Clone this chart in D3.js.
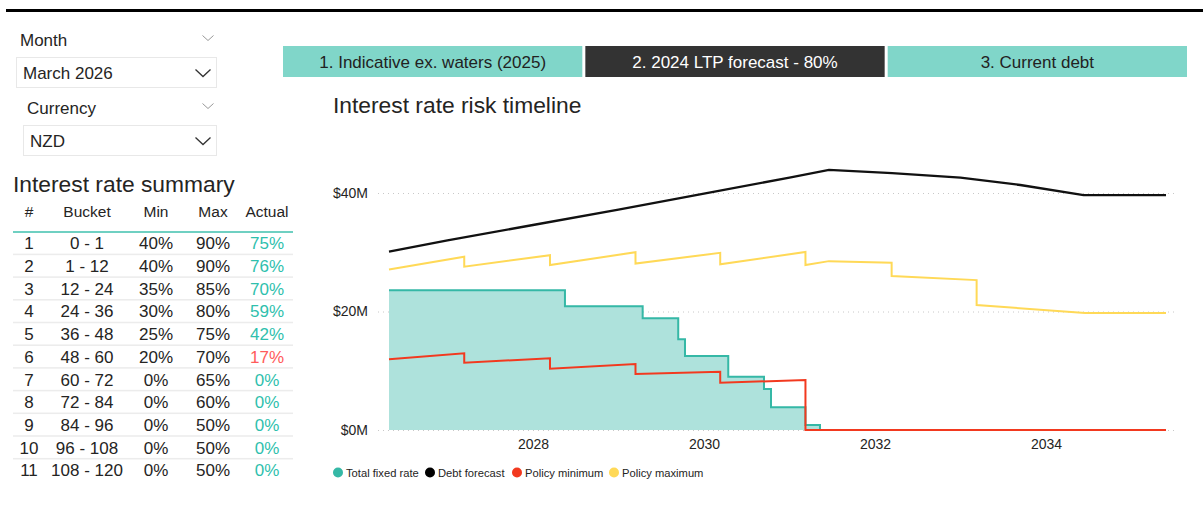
<!DOCTYPE html>
<html>
<head>
<meta charset="utf-8">
<script src="https://cdn.jsdelivr.net/npm/d3@7/dist/d3.min.js"></script>
<style>
  html, body { margin: 0; padding: 0; background: #fff; }
  svg { display: block; font-family: "Liberation Sans", Arial, sans-serif; }
</style>
</head>
<body>
<svg id="chart" width="1203" height="512"></svg>
<script>
// ---------- Data ----------
const tabLabels = ["1. Indicative ex. waters (2025)", "2. 2024 LTP forecast - 80%", "3. Current debt"];
const activeTab = 1;
const monthValue = "March 2026";
const currencyValue = "NZD";

const tableHeaders = ["#", "Bucket", "Min", "Max", "Actual"];
const rowNums   = [1, 2, 3, 4, 5, 6, 7, 8, 9, 10, 11];
const buckets   = ["0 - 1", "1 - 12", "12 - 24", "24 - 36", "36 - 48", "48 - 60", "60 - 72", "72 - 84", "84 - 96", "96 - 108", "108 - 120"];
const minPct    = [40, 40, 35, 30, 25, 20, 0, 0, 0, 0, 0];
const maxPct    = [90, 90, 85, 80, 75, 70, 65, 60, 50, 50, 50];
const actualPct = [75, 76, 70, 59, 42, 17, 0, 0, 0, 0, 0];

// time in decimal years, values in $M
const fixedT = [2026.316, 2028.374, 2029.283, 2029.699, 2029.778, 2030.284, 2030.702, 2030.784, 2031.187, 2031.357, 2035.404];
const fixedV = [23.6, 20.9, 18.85, 15.3, 12.5, 9.0, 6.9, 3.85, 0.85, 0, 0];

const debtT = [2026.316, 2027, 2028, 2029, 2030, 2031, 2031.462, 2032.2, 2033, 2033.7, 2034.44, 2035.404];
const debtV = [30.1, 32.0, 34.6, 37.2, 39.9, 42.6, 43.9, 43.35, 42.6, 41.35, 39.65, 39.65];

const minT = [2026.316, 2027.196, 2027.196, 2028.199, 2028.199, 2029.199, 2029.199, 2030.19, 2030.19, 2031.187, 2031.187, 2035.404];
const minV = [11.93, 12.95, 11.36, 12.1, 10.35, 11.14, 9.45, 9.84, 7.98, 8.44, 0, 0];

const maxT = [2026.316, 2027.196, 2027.196, 2028.199, 2028.199, 2029.199, 2029.199, 2030.19, 2030.19, 2031.187, 2031.187, 2031.462, 2032.195, 2032.195, 2033.189, 2033.189, 2034.456, 2035.404];
const maxV = [27.1, 29.25, 27.56, 29.5, 27.85, 30.0, 28.1, 29.9, 27.97, 30.04, 27.85, 28.5, 28.24, 26.0, 25.3, 21.1, 19.75, 19.75];

const yTicks = [0, 20, 40];
const xTicks = [2028, 2030, 2032, 2034];
const legendLabels = ["Total fixed rate", "Debt forecast", "Policy minimum", "Policy maximum"];

// ---------- Styles ----------
const C = {
  teal: "#35b8a6", tealFill: "#aee2dc", black: "#111111", red: "#f2391f", yellow: "#ffd957",
  text: "#252423", tab: "#80d6c9", tabDark: "#333333", grid: "#c8c8c8", ok: "#2fbfad", bad: "#ff5b5b"
};

const svg = d3.select("#chart");

// top rule
svg.append("rect").attr("x", 6).attr("y", 9).attr("width", 1197).attr("height", 3).attr("fill", "#000");

// ---------- Slicers ----------
function chevron(g, cx, cy, w, h, color, sw) {
  g.append("path")
    .attr("d", `M${cx - w / 2},${cy - h / 2} L${cx},${cy + h / 2} L${cx + w / 2},${cy - h / 2}`)
    .attr("fill", "none").attr("stroke", color).attr("stroke-width", sw);
}
const sl = svg.append("g");
sl.append("text").attr("x", 20).attr("y", 46).attr("font-size", 17).attr("fill", C.text).text("Month");
chevron(sl, 208, 38, 11, 5, "#999", 1);
sl.append("rect").attr("x", 16.5).attr("y", 57.5).attr("width", 200).attr("height", 30).attr("fill", "#fff").attr("stroke", "#e8e8e8");
sl.append("text").attr("x", 23).attr("y", 79).attr("font-size", 17).attr("fill", C.text).text(monthValue);
chevron(sl, 203, 73, 15, 7, "#333", 1.3);

sl.append("text").attr("x", 27).attr("y", 114).attr("font-size", 17).attr("fill", C.text).text("Currency");
chevron(sl, 208, 106, 11, 5, "#999", 1);
sl.append("rect").attr("x", 23.5).attr("y", 125.5).attr("width", 193).attr("height", 30).attr("fill", "#fff").attr("stroke", "#e8e8e8");
sl.append("text").attr("x", 30).attr("y", 147).attr("font-size", 17).attr("fill", C.text).text(currencyValue);
chevron(sl, 203, 141, 15, 7, "#333", 1.3);

// ---------- Table ----------
const tb = svg.append("g");
tb.append("text").attr("x", 13).attr("y", 192).attr("font-size", 22.8).attr("fill", C.text).text("Interest rate summary");
const colX = [29, 87, 156, 213, 267];
tb.selectAll("text.hdr").data(tableHeaders).join("text").attr("class", "hdr")
  .attr("x", (d, i) => colX[i]).attr("y", 217).attr("text-anchor", "middle")
  .attr("font-size", 15.5).attr("fill", C.text).text(d => d);
tb.append("rect").attr("x", 13).attr("y", 231).attr("width", 280).attr("height", 2).attr("fill", "#6fd0c2");
const rowH = 22.7, row0 = 243.3;
rowNums.forEach((n, i) => {
  const cy = row0 + i * rowH;
  if (i < rowNums.length - 1)
    tb.append("rect").attr("x", 13).attr("y", cy + rowH / 2 - 1).attr("width", 280).attr("height", 1.5).attr("fill", "#ececec");
  const cells = [String(n), buckets[i], minPct[i] + "%", maxPct[i] + "%", actualPct[i] + "%"];
  cells.forEach((t, j) => {
    tb.append("text").attr("x", colX[j]).attr("y", cy + 6).attr("text-anchor", "middle")
      .attr("font-size", 17)
      .attr("fill", j === 4 ? (actualPct[i] < minPct[i] ? C.bad : C.ok) : C.text)
      .text(t);
  });
});

// ---------- Tabs ----------
const tabX = d3.scaleBand().domain(d3.range(tabLabels.length)).range([283, 1187]).paddingInner(0.01);
const tabs = svg.append("g").selectAll("g").data(tabLabels).join("g");
tabs.append("rect").attr("x", (d, i) => tabX(i)).attr("y", 46).attr("width", tabX.bandwidth()).attr("height", 31)
  .attr("fill", (d, i) => i === activeTab ? C.tabDark : C.tab);
tabs.append("text").attr("x", (d, i) => tabX(i) + tabX.bandwidth() / 2).attr("y", 68).attr("text-anchor", "middle")
  .attr("font-size", 17).attr("fill", (d, i) => i === activeTab ? "#fff" : "#222").text(d => d);

// ---------- Chart ----------
svg.append("text").attr("x", 333).attr("y", 113).attr("font-size", 22.8).attr("fill", C.text).text("Interest rate risk timeline");

const x = d3.scaleLinear().domain([2026.316, 2035.404]).range([389, 1166]);
const y = d3.scaleLinear().domain([0, 40]).range([430, 193]);

const grid = svg.append("g");
grid.selectAll("line").data(yTicks).join("line")
  .attr("x1", 378).attr("x2", 1177).attr("y1", d => y(d) + 0.5).attr("y2", d => y(d) + 0.5)
  .attr("stroke", C.grid).attr("stroke-width", 1).attr("stroke-dasharray", "1,4");

const yAxis = svg.append("g").attr("transform", "translate(368,0)")
  .call(d3.axisLeft(y).tickValues(yTicks).tickSize(0).tickPadding(0).tickFormat(d => `$${d}M`));
yAxis.select(".domain").remove();
yAxis.selectAll("text").attr("font-size", 14).attr("fill", C.text).attr("font-family", "Liberation Sans, Arial, sans-serif");

const xAxis = svg.append("g").attr("transform", "translate(0,436)")
  .call(d3.axisBottom(x).tickValues(xTicks).tickSize(0).tickPadding(0).tickFormat(d3.format("d")));
xAxis.select(".domain").remove();
xAxis.selectAll("text").attr("font-size", 14).attr("fill", C.text).attr("dy", "0.9em").attr("font-family", "Liberation Sans, Arial, sans-serif");

const fixedData = fixedT.map((t, i) => [t, fixedV[i]]);
svg.append("path").datum(fixedData)
  .attr("d", d3.area().x(d => x(d[0])).y0(y(0)).y1(d => y(d[1])).curve(d3.curveStepAfter))
  .attr("fill", C.tealFill);
svg.append("path").datum(fixedData)
  .attr("d", d3.line().x(d => x(d[0])).y(d => y(d[1])).curve(d3.curveStepAfter))
  .attr("fill", "none").attr("stroke", C.teal).attr("stroke-width", 2);

function drawLine(T, V, color, w) {
  svg.append("path").datum(T.map((t, i) => [t, V[i]]))
    .attr("d", d3.line().x(d => x(d[0])).y(d => y(d[1])))
    .attr("fill", "none").attr("stroke", color).attr("stroke-width", w).attr("stroke-linejoin", "miter");
}
drawLine(debtT, debtV, C.black, 2.3);
drawLine(maxT, maxV, C.yellow, 2);
drawLine(minT, minV, C.red, 2);

// ---------- Legend ----------
const legColors = [C.teal, "#000", C.red, C.yellow];
const legX = [338, 430, 517, 614];
const lg = svg.append("g").selectAll("g").data(legendLabels).join("g")
  .attr("transform", (d, i) => `translate(${legX[i]},472.5)`);
lg.append("circle").attr("r", 5).attr("fill", (d, i) => legColors[i]);
lg.append("text").attr("x", 8).attr("y", 4).attr("font-size", 11.2).attr("fill", C.text).text(d => d);
</script>
</body>
</html>
